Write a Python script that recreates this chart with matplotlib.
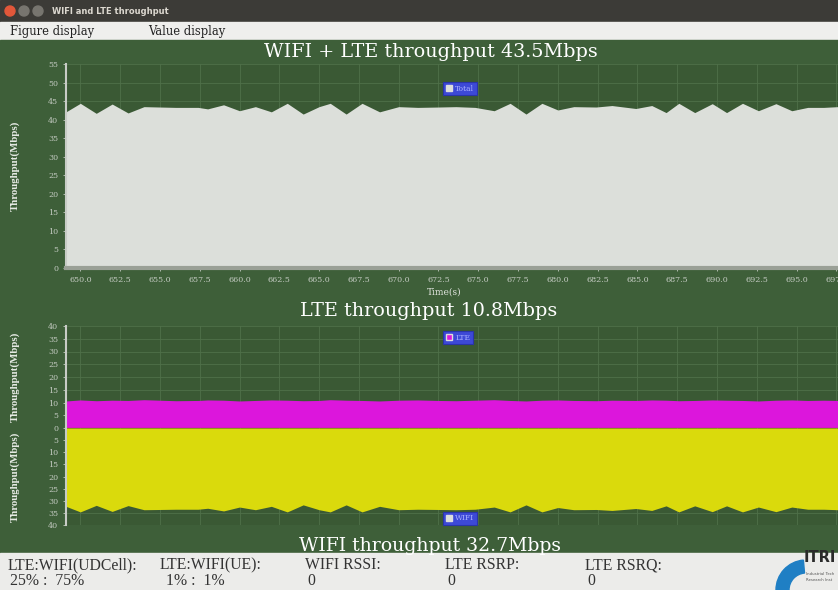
import matplotlib
matplotlib.use('Agg')
import matplotlib.pyplot as plt
from matplotlib.patches import Rectangle, Circle, Wedge, Patch

# sample times (s) and throughput values (Mbps)
times = [649.1, 650.0, 651.0, 652.0, 653.0, 654.0, 655.0, 656.0, 657.4, 658.0,
         659.0, 660.0, 661.0, 662.0, 663.0, 664.0, 665.0, 665.7, 666.7, 667.7,
         668.8, 670.0, 671.2, 672.5, 673.6, 674.8, 676.0, 677.0, 678.0, 679.0,
         680.0, 681.0, 682.4, 683.4, 684.9, 685.9, 686.8, 687.6, 688.6, 689.7,
         690.6, 691.6, 692.6, 693.7, 694.7, 695.7, 696.7, 697.6]
total = [42.1, 44.4, 41.7, 44.2, 41.8, 43.5, 43.4, 43.3, 43.3, 42.9,
         44.0, 42.4, 43.5, 42.1, 44.4, 41.5, 43.5, 44.4, 41.5, 44.4,
         42.1, 43.5, 43.3, 43.4, 43.5, 43.3, 42.4, 44.4, 41.5, 44.4,
         42.6, 43.5, 43.4, 43.8, 43.0, 43.8, 41.9, 44.4, 41.9, 44.3,
         41.9, 44.4, 42.4, 44.3, 42.4, 43.3, 43.3, 43.5]
lte = [10.6, 11.0, 10.7, 10.9, 10.8, 11.1, 10.9, 10.7, 10.8, 11.0,
       10.9, 10.6, 10.8, 11.0, 10.9, 10.7, 10.8, 11.1, 10.9, 10.8,
       10.6, 10.9, 11.0, 10.8, 10.7, 10.9, 11.1, 10.8, 10.6, 10.9,
       11.0, 10.8, 10.7, 10.9, 10.8, 11.0, 10.9, 10.7, 10.8, 11.0,
       10.9, 10.8, 10.6, 10.9, 11.0, 10.8, 10.9, 10.8]
wifi = [32.3, 34.6, 31.9, 34.4, 32.0, 33.7, 33.6, 33.5, 33.5, 33.1,
        34.2, 32.6, 33.7, 32.3, 34.6, 31.7, 33.7, 34.6, 31.7, 34.6,
        32.3, 33.7, 33.5, 33.6, 33.7, 33.5, 32.6, 34.6, 31.7, 34.6,
        32.8, 33.7, 33.6, 34.0, 33.2, 34.0, 32.1, 34.6, 32.1, 34.5,
        32.1, 34.6, 32.6, 34.5, 32.6, 33.5, 33.5, 33.7]
x_ticks = [650.0, 652.5, 655.0, 657.5, 660.0, 662.5, 665.0, 667.5, 670.0, 672.5,
           675.0, 677.5, 680.0, 682.5, 685.0, 687.5, 690.0, 692.5, 695.0, 697.5]

info_labels = ['LTE:WIFI(UDCell):', 'LTE:WIFI(UE):', 'WIFI RSSI:', 'LTE RSRP:', 'LTE RSRQ:']
info_values = ['25% :  75%', ' 1% :  1%', '0', '0', '0']

green = '#3e5f39'
plot_bg = '#3a5934'
grid_c = '#4f7049'
tick_c = '#c3cac1'
serif = 'DejaVu Serif'

fig = plt.figure(figsize=(8.38, 5.90), dpi=100)

# window chrome drawn in pixel coordinates
bg = fig.add_axes([0, 0, 1, 1], zorder=0)
bg.set_xlim(0, 838)
bg.set_ylim(590, 0)
bg.axis('off')
bg.add_patch(Rectangle((0, 0), 838, 22, color='#3c3b37'))
bg.add_patch(Rectangle((0, 22), 838, 18, color='#efefed'))
bg.add_patch(Rectangle((0, 40), 838, 513, color=green))
bg.add_patch(Rectangle((0, 553), 838, 37, color='#ececea'))
bg.add_patch(Circle((10, 11), 5, color='#e2573a'))
bg.add_patch(Circle((24, 11), 5, color='#77756f'))
bg.add_patch(Circle((38, 11), 5, color='#77756f'))
bg.text(52, 11, 'WIFI and LTE throughput', color='#dcd8d0', fontsize=6,
        fontweight='bold', va='center', family='DejaVu Sans')
bg.text(10, 31, 'Figure display', fontsize=8.3, va='center', family=serif, color='#222222')
bg.text(148, 31, 'Value display', fontsize=8.3, va='center', family=serif, color='#222222')

bg.text(431, 52, 'WIFI + LTE throughput 43.5Mbps', color='white', fontsize=13.8,
        ha='center', va='center', family=serif)
bg.text(429, 311, 'LTE throughput 10.8Mbps', color='white', fontsize=13.8,
        ha='center', va='center', family=serif)
bg.text(430, 546, 'WIFI throughput 32.7Mbps', color='white', fontsize=13.6,
        ha='center', va='center', family=serif)

xs = [8, 160, 305, 445, 585]
for x, lab, val in zip(xs, info_labels, info_values):
    bg.text(x, 565, lab, fontsize=11.3, va='center', family='Liberation Serif', color='#333333')
    bg.text(x + 2, 581, val, fontsize=11.3, va='center', family='Liberation Serif', color='#333333')

# ITRI logo
bg.add_patch(Wedge((806, 590), 30, 180, 265, width=13, color='#1f7fc4'))
bg.text(804, 558, 'ITRI', fontsize=10.5, fontweight='bold', va='center',
        family='DejaVu Sans', color='#2a2a2a')
bg.text(806, 574, 'Industrial Tech', fontsize=2.8, va='center', color='#555555')
bg.text(806, 580, 'Research Inst', fontsize=2.8, va='center', color='#555555')

left = 66 / 838
width = 1 - left


def style(ax, yticks):
    ax.set_facecolor(plot_bg)
    ax.set_xlim(649.1, 697.6)
    ax.set_xticks(x_ticks)
    ax.set_yticks(yticks)
    ax.grid(True, color=grid_c, lw=0.6)
    ax.set_axisbelow(True)
    for s in ['top', 'right', 'bottom']:
        ax.spines[s].set_visible(False)
    ax.spines['left'].set_color('#c8ccc6')
    ax.spines['left'].set_linewidth(1.5)
    ax.tick_params(colors=tick_c, labelsize=5.8, length=2, width=0.6)
    for lab in ax.get_yticklabels() + ax.get_xticklabels():
        lab.set_family(serif)
    ax.set_ylabel('Throughput(Mbps)', fontsize=7.8, color='#e6eae4', family='Liberation Serif',
                  fontweight='bold')
    ax.yaxis.set_label_coords(-0.06, 0.5)


def legend(ax, label, color, loc, anchor):
    h = [Patch(facecolor=color, edgecolor='#dddddd', label=label)]
    lg = ax.legend(handles=h, loc=loc, bbox_to_anchor=anchor,
                   facecolor='#3d49d6', edgecolor='#2a34a8', framealpha=1,
                   handlelength=0.8, handleheight=0.8, handletextpad=0.4,
                   borderpad=0.35, labelcolor='#aab0ff', fancybox=False,
                   prop={'family': serif, 'size': 5.5})
    lg.get_frame().set_linewidth(0.8)


# total
ax1 = fig.add_axes([left, 1 - 268 / 590, width, 204 / 590], zorder=1)
ax1.fill_between(times, total, color='#dcdfda', lw=0)
ax1.set_ylim(0, 55)
style(ax1, range(0, 56, 5))
ax1.spines['bottom'].set_visible(True)
ax1.spines['bottom'].set_color('#9aa096')
ax1.spines['bottom'].set_linewidth(3)
ax1.set_xticklabels(['%.1f' % t for t in x_ticks])
ax1.set_xlabel('Time(s)', fontsize=6.5, color='#e0e4de', family=serif, labelpad=0)
ax1.xaxis.set_label_coords(0.49, -0.095)
legend(ax1, 'Total', '#dcdfda', 'upper left', (0.484, 0.93))

# LTE
ax2 = fig.add_axes([left, 1 - 428 / 590, width, 102 / 590], zorder=1)
ax2.fill_between(times, lte, color='#dc16dc', lw=0)
ax2.axhline(0, color='#d02848', lw=1)
ax2.set_ylim(0, 40)
style(ax2, range(0, 41, 5))
ax2.set_xticklabels([])
ax2.tick_params(axis='x', length=0)
legend(ax2, 'LTE', '#dc16dc', 'upper left', (0.484, 0.99))

# WIFI (inverted)
ax3 = fig.add_axes([left, 1 - 525 / 590, width, 97 / 590], zorder=1)
ax3.fill_between(times, wifi, color='#dada0c', lw=0)
ax3.set_ylim(40, 0)
style(ax3, range(5, 41, 5))
ax3.set_xticklabels([])
ax3.tick_params(axis='x', length=0)
legend(ax3, 'WIFI', '#dcdfda', 'lower left', (0.484, -0.04))

fig.savefig('out.png', dpi=100)
